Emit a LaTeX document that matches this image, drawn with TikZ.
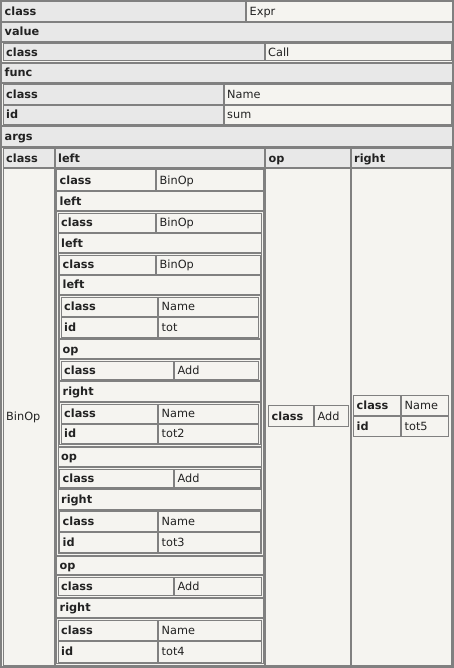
\documentclass[tikz,border=0pt]{standalone}
\usepackage{fontspec}
\setmainfont{DejaVu Sans}
\definecolor{hdrc}{HTML}{E8E8E8}
\definecolor{valc}{HTML}{F5F4F0}
\definecolor{bordc}{HTML}{808080}
\definecolor{txtc}{HTML}{222222}
\tikzset{
  cellbd/.style={draw=bordc,line width=1pt},
  ht/.style={anchor=base west,inner sep=0pt,text=txtc,font=\fontsize{11.3}{13}\selectfont\bfseries},
  vt/.style={anchor=base west,inner sep=0pt,text=txtc,font=\fontsize{11.3}{13}\selectfont}
}
% header cell (grey): name, x1, y1, x2, y2, text
\newcommand\hcell[6]{%
  \path[cellbd,fill=hdrc] (#2+.5,#3+.5) rectangle (#4-.5,#5-.5);
  \node[ht] (#1) at (#2+3.5,{(#3+#5)/2+4}) {#6};}
% key cell (light, bold)
\newcommand\kcell[6]{%
  \path[cellbd,fill=valc] (#2+.5,#3+.5) rectangle (#4-.5,#5-.5);
  \node[ht] (#1) at (#2+3.5,{(#3+#5)/2+4}) {#6};}
% value cell
\newcommand\vcell[6]{%
  \path[cellbd,fill=valc] (#2+.5,#3+.5) rectangle (#4-.5,#5-.5);
  \node[vt] (#1) at (#2+3.5,{(#3+#5)/2+4}) {#6};}
% empty (container) cell
\newcommand\ecell[4]{%
  \path[cellbd,fill=valc] (#1+.5,#2+.5) rectangle (#3-.5,#4-.5);}
\begin{document}
\begin{tikzpicture}[x=1pt,y=-1pt]
\useasboundingbox (0,0) rectangle (454,668);
% outer table
\ecell{0}{0}{454}{668}
\hcell{k1}{1}{1}{246}{22}{class}
\vcell{v1}{246}{1}{453}{22}{Expr}
\hcell{k2}{1}{22}{453}{42}{value}
\ecell{1}{42}{453}{63}
\hcell{k3}{2.5}{43.5}{264.5}{61.5}{class}
\vcell{v3}{264.5}{43.5}{451.5}{61.5}{Call}
\hcell{k4}{1}{63}{453}{83}{func}
\ecell{1}{83}{453}{126.5}
\hcell{k5}{2.5}{84.5}{223.5}{105}{class}
\vcell{v5}{223.5}{84.5}{451.5}{105}{Name}
\hcell{k6}{2.5}{105}{223.5}{125}{id}
\vcell{v6}{223.5}{105}{451.5}{125}{sum}
\hcell{k7}{1}{126.5}{453}{147}{args}
\ecell{1}{147}{453}{667}
% args table header
\hcell{ah1}{2.5}{148.5}{54.5}{168}{class}
\hcell{ah2}{54.5}{148.5}{265}{168}{left}
\hcell{ah3}{265}{148.5}{350.5}{168}{op}
\hcell{ah4}{350.5}{148.5}{451.5}{168}{right}
% args data row
\vcell{ad1}{2.5}{168}{54.5}{665.5}{BinOp}
\ecell{54.5}{168}{265}{665.5}
\ecell{265}{168}{350.5}{665.5}
\ecell{350.5}{168}{451.5}{665.5}
% op column
\kcell{ok}{268}{405}{314}{427}{class}
\vcell{ov}{314}{405}{349}{427}{Add}
% right column
\kcell{rk1}{353}{395}{401}{416}{class}
\vcell{rv1}{401}{395}{449}{416}{Name}
\kcell{rk2}{353}{416}{401}{437}{id}
\vcell{rv2}{401}{416}{449}{437}{tot5}
% L1 table
\kcell{a1k}{56}{169.5}{156}{191}{class}
\vcell{a1v}{156}{169.5}{263.5}{191}{BinOp}
\kcell{a2k}{56}{191}{263.5}{211}{left}
\ecell{56}{211}{263.5}{555.5}
\kcell{a3k}{56}{555.5}{263.5}{575}{op}
\ecell{56}{575}{263.5}{597.5}
\kcell{a4k}{57.5}{576.5}{174}{596}{class}
\vcell{a4v}{174}{576.5}{262}{596}{Add}
\kcell{a5k}{56}{597.5}{263.5}{618}{right}
\ecell{56}{618}{263.5}{664}
\kcell{a6k}{57.5}{619.5}{158}{641}{class}
\vcell{a6v}{158}{619.5}{262}{641}{Name}
\kcell{a7k}{57.5}{641}{158}{662.5}{id}
\vcell{a7v}{158}{641}{262}{662.5}{tot4}
% L2 table
\kcell{b1k}{57.5}{212.5}{156}{233}{class}
\vcell{b1v}{156}{212.5}{262}{233}{BinOp}
\kcell{b2k}{57.5}{233}{262}{253}{left}
\ecell{57.5}{253}{262}{446.5}
\kcell{b3k}{57.5}{446.5}{262}{467}{op}
\ecell{57.5}{467}{262}{489}
\kcell{b4k}{59}{468.5}{174}{487.5}{class}
\vcell{b4v}{174}{468.5}{260.5}{487.5}{Add}
\kcell{b5k}{57.5}{489}{262}{509.5}{right}
\ecell{57.5}{509.5}{262}{554}
\kcell{b6k}{59}{511}{158}{531.5}{class}
\vcell{b6v}{158}{511}{260.5}{531.5}{Name}
\kcell{b7k}{59}{531.5}{158}{552.5}{id}
\vcell{b7v}{158}{531.5}{260.5}{552.5}{tot3}
% L3 table
\kcell{c1k}{59}{254.5}{156}{274.5}{class}
\vcell{c1v}{156}{254.5}{260.5}{274.5}{BinOp}
\kcell{c2k}{59}{274.5}{260.5}{295}{left}
\ecell{59}{295}{260.5}{339}
\kcell{c3k}{60.5}{296.5}{158}{317}{class}
\vcell{c3v}{158}{296.5}{259}{317}{Name}
\kcell{c4k}{60.5}{317}{158}{337.5}{id}
\vcell{c4v}{158}{317}{259}{337.5}{tot}
\kcell{c5k}{59}{339}{260.5}{359}{op}
\ecell{59}{359}{260.5}{381}
\kcell{c6k}{60.5}{360.5}{174}{379.5}{class}
\vcell{c6v}{174}{360.5}{259}{379.5}{Add}
\kcell{c7k}{59}{381}{260.5}{402}{right}
\ecell{59}{402}{260.5}{445}
\kcell{c8k}{60.5}{403.5}{158}{424}{class}
\vcell{c8v}{158}{403.5}{259}{424}{Name}
\kcell{c9k}{60.5}{424}{158}{443.5}{id}
\vcell{c9v}{158}{424}{259}{443.5}{tot2}
\end{tikzpicture}
\end{document}
